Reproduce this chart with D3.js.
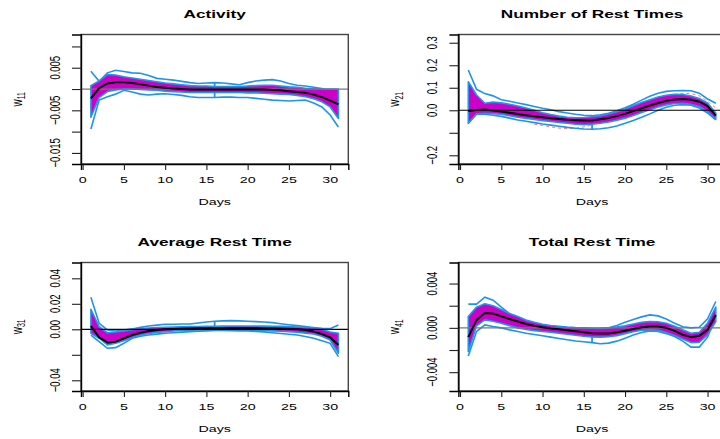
<!DOCTYPE html>
<html>
<head>
<meta charset="utf-8">
<script src="https://cdn.jsdelivr.net/npm/d3@7"></script>
<style>
body { margin: 0; background: #fff; }
text { font-family: "Liberation Sans", Arial, Helvetica, sans-serif; fill: #000; }
</style>
</head>
<body>
<div id="chart"></div>
<script>
var width = 720;
var height = 439;

var days = [1,2,3,4,5,6,7,8,9,10,11,12,13,14,15,16,17,18,19,20,21,22,23,24,25,26,27,28,29,30,31];
var xTicks = [0, 5, 10, 15, 20, 25, 30];

// Activity
var actMean   = [-0.0022,0.0002,0.0013,0.0016,0.0016,0.0014,0.0011,0.0008,0.0005,0.0003,0.0001,0,-0.0001,-0.0001,-0.0001,-0.0001,-0.0001,-0.0001,-0.0001,-0.0001,-0.0001,-0.0001,-0.0002,-0.0003,-0.0005,-0.0007,-0.0009,-0.0013,-0.0019,-0.0027,-0.0036];
var actBandHi = [0.0008,0.0019,0.0034,0.0033,0.0029,0.0026,0.0023,0.002,0.0017,0.0014,0.0012,0.001,0.0008,0.0007,0.0007,0.0006,0.0006,0.0006,0.0006,0.0007,0.0008,0.0009,0.0009,0.0007,0.0005,0.0004,0.0002,0.0001,0,0,0];
var actBandLo = [-0.0066,-0.002,-0.0006,-0.0002,0,0,-0.0001,-0.0002,-0.0003,-0.0005,-0.0006,-0.0007,-0.0008,-0.0008,-0.0008,-0.0008,-0.0008,-0.0008,-0.0008,-0.0009,-0.0009,-0.001,-0.0011,-0.0012,-0.0013,-0.0015,-0.0018,-0.0023,-0.003,-0.0042,-0.0069];
var actOutHi  = [0.0042,0.0018,0.0038,0.0044,0.0041,0.0038,0.0037,0.0032,0.0025,0.0023,0.0021,0.0018,0.0015,0.0013,0.0014,0.0015,0.0014,0.0012,0.001,0.0015,0.0019,0.0021,0.0022,0.0019,0.0013,0.0009,0.0007,0.0004,0.0001,-0.0004,-0.0002];
var actOutLo  = [-0.0094,-0.0026,-0.0018,-0.0012,-0.0003,-0.0007,-0.0012,-0.0014,-0.0012,-0.0011,-0.0013,-0.0015,-0.0018,-0.002,-0.002,-0.002,-0.0019,-0.0019,-0.002,-0.002,-0.0022,-0.0024,-0.0026,-0.0027,-0.0028,-0.0027,-0.0026,-0.0033,-0.0042,-0.0061,-0.0089];

// Number of Rest Times
var numMean   = [-0.003,0.001,0.003,-0.001,-0.006,-0.011,-0.017,-0.022,-0.027,-0.031,-0.035,-0.039,-0.042,-0.044,-0.046,-0.045,-0.04,-0.034,-0.026,-0.016,-0.004,0.009,0.021,0.032,0.042,0.048,0.05,0.047,0.038,0.018,-0.024];
var numBandHi = [0.127,0.068,0.031,0.036,0.033,0.027,0.019,0.01,0,-0.011,-0.019,-0.026,-0.031,-0.033,-0.032,-0.029,-0.024,-0.016,-0.006,0.006,0.02,0.034,0.047,0.059,0.067,0.071,0.07,0.063,0.052,0.032,-0.012];
var numBandLo = [-0.058,-0.016,-0.013,-0.015,-0.018,-0.024,-0.031,-0.036,-0.041,-0.046,-0.05,-0.054,-0.058,-0.062,-0.064,-0.062,-0.058,-0.052,-0.044,-0.035,-0.023,-0.01,0.002,0.015,0.024,0.03,0.031,0.026,0.017,-0.005,-0.04];
var numOutHi  = [0.179,0.093,0.074,0.064,0.047,0.04,0.032,0.025,0.017,0.009,0.002,-0.006,-0.012,-0.018,-0.022,-0.024,-0.02,-0.013,-0.002,0.011,0.027,0.045,0.062,0.076,0.084,0.087,0.088,0.087,0.076,0.05,0.031];
var numOutLo  = [-0.058,-0.016,-0.018,-0.022,-0.027,-0.035,-0.043,-0.049,-0.055,-0.061,-0.066,-0.071,-0.076,-0.08,-0.083,-0.084,-0.082,-0.078,-0.07,-0.058,-0.045,-0.031,-0.016,0,0.013,0.022,0.025,0.022,0.01,-0.012,-0.043];
var numPinkDays  = [9,10,11,12,13,14,15,16];
var numPinkVals  = [-0.062,-0.068,-0.074,-0.079,-0.081,-0.08,-0.074,-0.065];
var numPinkDays2 = [26,27,28,29,30,31];
var numPinkVals2 = [0.07,0.075,0.074,0.064,0.04,0.01];

// Average Rest Time
var avgMean   = [0.0026,-0.0063,-0.0103,-0.0097,-0.007,-0.0045,-0.0027,-0.0013,-0.0005,0,0.0003,0.0005,0.0007,0.0008,0.0008,0.0008,0.0008,0.0008,0.0008,0.0008,0.0008,0.0007,0.0006,0.0004,0.0003,0.0001,-0.0005,-0.0018,-0.0037,-0.0063,-0.0123];
var avgBandHi = [0.0157,0.002,-0.0027,-0.0021,-0.0013,-0.0004,0.0005,0.001,0.0014,0.0016,0.0018,0.002,0.0021,0.0022,0.0023,0.0024,0.0025,0.0026,0.0026,0.0026,0.0026,0.0025,0.0024,0.0023,0.0022,0.0018,0.0014,0.001,0,-0.0021,-0.0031];
var avgBandLo = [-0.0031,-0.007,-0.0123,-0.011,-0.009,-0.0065,-0.0045,-0.0033,-0.0024,-0.0018,-0.0013,-0.001,-0.0008,-0.0006,-0.0005,-0.0005,-0.0005,-0.0006,-0.0007,-0.0008,-0.0009,-0.001,-0.0012,-0.0015,-0.0018,-0.0023,-0.003,-0.0037,-0.0055,-0.0084,-0.0188];
var avgOutHi  = [0.0251,0.0047,-0.0005,-0.0013,-0.0005,0.0003,0.0015,0.0026,0.0033,0.0039,0.004,0.0041,0.0042,0.005,0.0057,0.0063,0.0066,0.0068,0.0066,0.0063,0.006,0.0057,0.0052,0.0044,0.0036,0.0029,0.0021,0.0014,0.0008,0.0005,0.0034];
var avgOutLo  = [-0.0045,-0.0097,-0.0149,-0.0144,-0.011,-0.007,-0.0055,-0.0045,-0.0038,-0.0031,-0.0027,-0.0022,-0.0018,-0.0014,-0.0012,-0.001,-0.001,-0.0011,-0.0012,-0.0013,-0.0016,-0.002,-0.0027,-0.0033,-0.0039,-0.0045,-0.0057,-0.007,-0.009,-0.011,-0.0214];

// Total Rest Time
var totMean   = [-0.00084,0.00072,0.00135,0.0013,0.00105,0.0008,0.00057,0.00035,0.00018,0.00005,-0.00005,-0.00013,-0.00022,-0.0003,-0.0004,-0.00048,-0.00052,-0.0005,-0.0004,-0.00027,-0.0001,0.00005,0.00012,0.00012,0,-0.00027,-0.00062,-0.00084,-0.00072,-0.00018,0.00117];
var totBandHi = [0.00102,0.00187,0.00217,0.002,0.00165,0.0013,0.00102,0.0007,0.0005,0.00033,0.00022,0.00014,0.00007,0.00002,0,-0.00004,-0.00006,-0.00002,0.00008,0.00018,0.00035,0.0005,0.00057,0.00055,0.00042,0.00014,-0.00018,-0.00048,-0.0004,0.00042,0.00187];
var totBandLo = [-0.00214,0.00018,0.00072,0.0006,0.00042,0.0002,0,-0.00015,-0.00025,-0.00033,-0.0004,-0.00048,-0.00057,-0.00066,-0.00076,-0.00082,-0.00084,-0.0008,-0.0007,-0.00052,-0.00035,-0.00022,-0.00018,-0.00022,-0.00042,-0.0007,-0.001,-0.00133,-0.0013,-0.00063,0.00057];
var totOutHi  = [0.00214,0.00214,0.00277,0.0025,0.00187,0.00127,0.0009,0.00057,0.0004,0.00027,0.00015,0.00007,0,-0.00004,-0.00006,-0.00006,-0.00004,0,0.00022,0.0005,0.00075,0.00099,0.00117,0.00108,0.0008,0.00042,0.0001,0,0.00006,0.00081,0.00238];
var totOutLo  = [-0.00253,-0.00033,0.00027,0.00012,0,-0.00018,-0.00033,-0.00048,-0.0006,-0.00072,-0.00084,-0.00096,-0.00108,-0.00118,-0.00126,-0.00133,-0.00144,-0.00138,-0.0012,-0.00093,-0.00065,-0.00042,-0.00027,-0.00033,-0.00052,-0.00078,-0.0012,-0.00174,-0.00174,-0.00084,0.00102];

// y ticks and the labels R kept
var actTicks = [-0.015,-0.010,-0.005,0,0.005,0.010];
var actLabels = ["-0.015","","-0.005","","0.005",""];
var numTicks = [-0.2,-0.1,0,0.1,0.2,0.3];
var numLabels = ["-0.2","","0.0","0.1","0.2","0.3"];
var avgTicks = [-0.04,-0.02,0,0.02,0.04];
var avgLabels = ["-0.04","","0.00","0.02","0.04"];
var totTicks = [-0.004,-0.002,0,0.002,0.004];
var totLabels = ["-0.004","","0.000","","0.004"];

var blue = "#1f94e8";
var magenta = "#cc00c8";
var sx = 1.5;   // the picture is stretched sideways

var panels = [
  {title: "Activity", sub: "11", left: 81, top: 34.5, bottom: 164, ydom: [-0.0176, 0.0128],
   mean: actMean, hi: actBandHi, lo: actBandLo, outHi: actOutHi, outLo: actOutLo,
   ticks: actTicks, labels: actLabels, zero: "#777"},
  {title: "Number of Rest Times", sub: "21", left: 458.4, top: 34.5, bottom: 164, ydom: [-0.2387, 0.3366],
   mean: numMean, hi: numBandHi, lo: numBandLo, outHi: numOutHi, outLo: numOutLo,
   ticks: numTicks, labels: numLabels, zero: "#000",
   pink: [[numPinkDays, numPinkVals], [numPinkDays2, numPinkVals2]]},
  {title: "Average Rest Time", sub: "31", left: 81, top: 262.5, bottom: 391, ydom: [-0.0484, 0.0524],
   mean: avgMean, hi: avgBandHi, lo: avgBandLo, outHi: avgOutHi, outLo: avgOutLo,
   ticks: avgTicks, labels: avgLabels, zero: "#000"},
  {title: "Total Rest Time", sub: "41", left: 458.4, top: 262.5, bottom: 391, ydom: [-0.0057, 0.0059],
   mean: totMean, hi: totBandHi, lo: totBandLo, outHi: totOutHi, outLo: totOutLo,
   ticks: totTicks, labels: totLabels, zero: "#777"}
];

var svg = d3.select("#chart")
        .append("svg")
        .attr("width", width)
        .attr("height", height);

function label(g, x, y, txt, size, bold, rotate) {
  return g.append("text")
      .attr("transform", "translate(" + x + "," + y + ") scale(" + sx + ",1)" + (rotate ? " rotate(-90)" : ""))
      .attr("text-anchor", "middle")
      .style("font-size", size + "px")
      .style("font-weight", bold ? "bold" : "normal")
      .text(txt);
}

panels.forEach(function(p, k) {
  var x = d3.scaleLinear().domain([-0.2, 32.2]).range([p.left, p.left + 267.3]);
  var y = d3.scaleLinear().domain(p.ydom).range([p.bottom, p.top]);
  var g = svg.append("g");

  var line = d3.line().x(function(d, i) { return x(days[i]); }).y(function(d) { return y(d); });
  var area = d3.area()
      .x(function(d, i) { return x(days[i]); })
      .y0(function(d, i) { return y(p.lo[i]); })
      .y1(function(d, i) { return y(p.hi[i]); });

  // faint dashed curve
  if (p.pink) {
    p.pink.forEach(function(s) {
      g.append("path")
        .attr("d", d3.line().x(function(d) { return x(d); }).y(function(d, i) { return y(s[1][i]); })(s[0]))
        .attr("fill", "none").attr("stroke", "#f08080").attr("stroke-width", 1)
        .attr("stroke-dasharray", "3,3");
    });
  }

  // outer lines
  [p.outHi, p.outLo].forEach(function(s) {
    g.append("path").attr("d", line(s))
      .attr("fill", "none").attr("stroke", blue).attr("stroke-width", 1.6);
  });
  g.append("line")
    .attr("x1", x(16)).attr("x2", x(16))
    .attr("y1", y(p.outHi[15])).attr("y2", y(p.outLo[15]))
    .attr("stroke", blue).attr("stroke-width", 1.8);

  // band
  g.append("path").attr("d", area(p.mean))
    .attr("fill", magenta).attr("stroke", blue).attr("stroke-width", 1.6)
    .attr("stroke-linejoin", "round");

  // zero line
  g.append("line")
    .attr("x1", x.range()[0]).attr("x2", Math.min(x.range()[1], width))
    .attr("y1", y(0)).attr("y2", y(0))
    .attr("stroke", p.zero).attr("stroke-width", 1.2);

  // mean
  g.append("path").attr("d", line(p.mean))
    .attr("fill", "none").attr("stroke", "#000").attr("stroke-width", 2)
    .attr("stroke-linejoin", "round");

  // box
  g.append("rect")
    .attr("x", x.range()[0]).attr("y", p.top)
    .attr("width", x.range()[1] - x.range()[0]).attr("height", p.bottom - p.top)
    .attr("fill", "none").attr("stroke", "#444").attr("stroke-width", 1.4);

  // axes
  var ax = g.append("g").attr("transform", "translate(0," + p.bottom + ")")
    .call(d3.axisBottom(x).tickValues(xTicks).tickSize(6).tickFormat(""));
  var ay = g.append("g").attr("transform", "translate(" + p.left + ",0)")
    .call(d3.axisLeft(y).tickValues(p.ticks).tickSize(9).tickFormat(""));
  [ax, ay].forEach(function(a) {
    a.select(".domain").attr("stroke", "#000").attr("stroke-width", 1.4);
    a.selectAll(".tick line").attr("stroke", "#222").attr("stroke-width", 1.1);
  });

  xTicks.forEach(function(t) {
    label(g, x(t), p.bottom + 19.3, String(t), 9.5, false, false);
  });
  p.ticks.forEach(function(t, i) {
    if (p.labels[i] !== "") label(g, p.left - 21.5, y(t), p.labels[i].replace("-", "\u2212"), 9.5, false, true);
  });

  var cx = (x.range()[0] + x.range()[1]) / 2;
  if (k === 1 || k === 3) cx = p.left + 267.3 / 2;
  label(g, cx, p.top - 16.5, p.title, 11.5, true, false);
  label(g, cx, p.bottom + 41, "Days", 9.5, false, false);

  var wl = label(g, p.left - 59, (p.top + p.bottom) / 2, "", 10, false, true);
  wl.append("tspan").text("w");
  wl.append("tspan").attr("dy", "0.3em").style("font-size", "7px").text(p.sub);
});
</script>
</body>
</html>
